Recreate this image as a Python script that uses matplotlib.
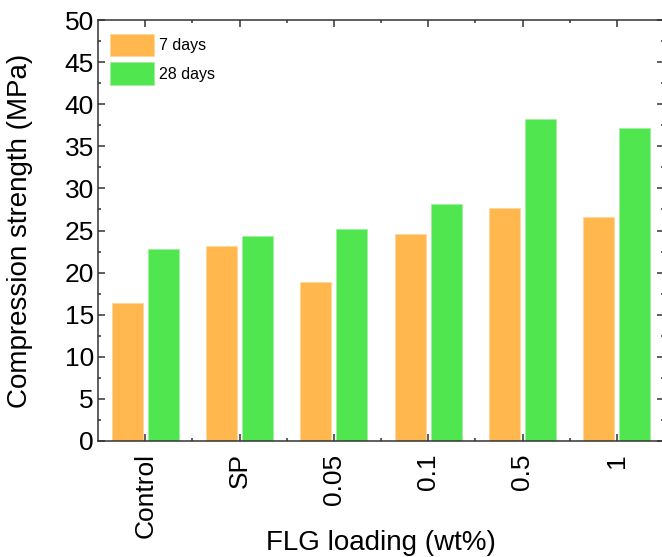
import matplotlib
matplotlib.use("Agg")
import matplotlib.pyplot as plt
import numpy as np
from matplotlib.ticker import MultipleLocator, FixedLocator

plt.rcParams['font.family'] = ['Liberation Sans', 'DejaVu Sans']

categories = ["Control", "SP", "0.05", "0.1", "0.5", "1"]
days7 = [16.4, 23.2, 18.9, 24.6, 27.7, 26.6]
days28 = [22.8, 24.3, 25.2, 28.2, 38.2, 37.2]
series_labels = ["7 days", "28 days"]
colors = ["#FFB74E", "#4FE64F"]

W, H = 662, 557
fig = plt.figure(figsize=(W / 100, H / 100), dpi=100)
ax = fig.add_axes([98 / W, (H - 441) / H, 566 / W, 421 / H])

x = np.arange(len(categories))
bw = 0.33
off = 0.19
ax.bar(x - off, days7, bw, color=colors[0], edgecolor="#FFD79A", linewidth=0.6, label=series_labels[0])
ax.bar(x + off, days28, bw, color=colors[1], edgecolor="#A0F0A0", linewidth=0.6, label=series_labels[1])

ax.set_xlim(-0.5, len(categories) - 0.5)
ax.set_ylim(0, 50)
ax.yaxis.set_major_locator(MultipleLocator(5))
ax.yaxis.set_minor_locator(MultipleLocator(2.5))
ax.xaxis.set_major_locator(FixedLocator(x))
ax.xaxis.set_minor_locator(FixedLocator(x[:-1] + 0.5))
ax.set_xticklabels(categories, rotation=90, fontsize=19)
ax.tick_params(axis='y', labelsize=19)
ax.tick_params(which='both', direction='in', top=True, right=True, width=1.1, color='#333333')
ax.tick_params(which='major', length=5)
ax.tick_params(which='minor', length=2.5)
ax.tick_params(axis='x', which='major', pad=9)
ax.tick_params(axis='y', which='major', pad=3)
for s in ax.spines.values():
    s.set_linewidth(1.1)
    s.set_color('#333333')

ax.set_xlabel("FLG loading (wt%)", fontsize=20)
ax.xaxis.set_label_coords(0.5, (441 - 543) / 421)
ax.xaxis.label.set_verticalalignment('center')
ax.set_ylabel("Compression strength (MPa)", fontsize=20)
ax.yaxis.set_label_coords((20 - 98) / 566, 0.5)
ax.yaxis.label.set_verticalalignment('center')

ax.legend(loc='upper left', bbox_to_anchor=(12.5 / 566, 1 - 14 / 421), frameon=False,
          fontsize=11.5, handlelength=2.75, handleheight=1.75, handletextpad=0.3,
          labelspacing=0.4, borderpad=0, borderaxespad=0)

fig.savefig("out.png", dpi=100)
